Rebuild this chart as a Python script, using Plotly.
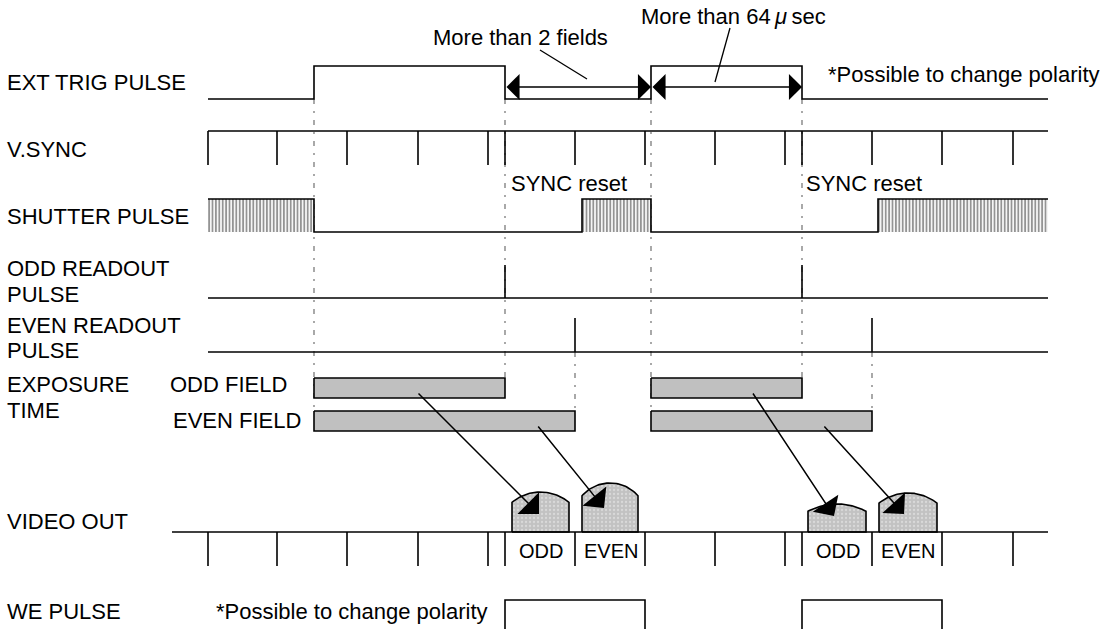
import math
import plotly.graph_objects as go

# ---------------- data (time axis in diagram units) ----------------
T_START, T_END = 208, 1048
trig_edges = [314, 505, 651, 802]                 # rise, fall, rise, fall
vsync_ticks = [208, 277, 347, 418, 488, 505, 575, 645, 715, 785, 802, 872, 942, 1013]
shutter_active = [(208, 314), (582, 651), (878, 1048)]
odd_readout = [505, 802]
even_readout = [575, 872]
odd_exposure = [(314, 505), (651, 802)]
even_exposure = [(314, 575), (651, 872)]
video_odd = [(512, 569), (808, 866)]
video_even = [(582, 638), (879, 937)]
video_odd_amp = [40, 28]
video_even_amp = [49, 39]
we_pulses = [(505, 645), (802, 942)]
video_labels = ["ODD", "EVEN", "ODD", "EVEN"]
row_labels = ["EXT TRIG PULSE", "V.SYNC", "SHUTTER PULSE", "ODD READOUT", "PULSE",
              "EVEN READOUT", "PULSE", "EXPOSURE", "TIME", "VIDEO OUT", "WE PULSE"]

# ---------------- layout constants ----------------
W, H = 1115, 629
Y = dict(trig_lo=99, trig_hi=66, vs=131, tick=34, sh_hi=199, sh_lo=232,
         odd_base=298, odd_top=265, even_base=352, even_top=318,
         oddbar=(378, 398), evenbar=(411, 431), video=532, we_top=600, we_bot=660)
row_label_y = [82, 149, 216, 268, 294, 325, 350, 384, 410, 521, 611]
FONT = "Liberation Sans, Arial, sans-serif"
FS = 22
BLACK = "#000000"
LW = 1.6

fig = go.Figure()


def line(xs, ys, color=BLACK, width=LW, dash=None):
    fig.add_trace(go.Scatter(x=xs, y=ys, mode="lines",
                             line=dict(color=color, width=width, dash=dash),
                             hoverinfo="skip", showlegend=False))


def poly(xs, ys, fillcolor=None, pattern=None, lcolor=BLACK, lwidth=LW):
    kw = {}
    if pattern is not None:
        kw["fillpattern"] = pattern
    fig.add_trace(go.Scatter(x=xs, y=ys, mode="lines", fill="toself",
                             fillcolor=fillcolor,
                             line=dict(color=lcolor, width=lwidth),
                             hoverinfo="skip", showlegend=False, **kw))


# ---------- dash-dot reference lines (drawn first, behind) ----------
ref_lines = [(trig_edges[0], Y["trig_lo"], Y["evenbar"][0]),
             (trig_edges[1], Y["trig_lo"], Y["oddbar"][0]),
             (even_readout[0], Y["even_base"], Y["evenbar"][0]),
             (trig_edges[2], Y["trig_lo"], Y["evenbar"][0]),
             (trig_edges[3], Y["trig_lo"], Y["oddbar"][0]),
             (even_readout[1], Y["even_base"], Y["evenbar"][0])]
xs, ys = [], []
for x, y0, y1 in ref_lines:
    xs += [x, x, None]
    ys += [y0, y1, None]
line(xs, ys, color="#707070", width=1.2, dash="5px,7px,2px,7px")

# ---------- EXT TRIG ----------
xs, ys = [T_START], [Y["trig_lo"]]
level = Y["trig_lo"]
for e in trig_edges:
    xs.append(e); ys.append(level)
    level = Y["trig_hi"] if level == Y["trig_lo"] else Y["trig_lo"]
    xs.append(e); ys.append(level)
xs.append(T_END); ys.append(level)
line(xs, ys)

# ---------- V.SYNC ----------
xs, ys = [T_START, T_END, None], [Y["vs"], Y["vs"], None]
for t in vsync_ticks:
    xs += [t, t, None]
    ys += [Y["vs"], Y["vs"] + Y["tick"], None]
line(xs, ys)

# ---------- SHUTTER ----------
for a, b in shutter_active:
    poly([a, b, b, a, a], [Y["sh_hi"], Y["sh_hi"], Y["sh_lo"], Y["sh_lo"], Y["sh_hi"]],
         fillcolor="white",
         pattern=dict(shape="|", size=3.4, solidity=0.55, fgcolor="#2a2a2a", bgcolor="white"),
         lcolor="rgba(0,0,0,0)", lwidth=0)
xs, ys = [], []
for i, (a, b) in enumerate(shutter_active):
    if i > 0:
        xs += [a]; ys += [Y["sh_lo"]]
    xs += [a, b]; ys += [Y["sh_hi"], Y["sh_hi"]]
    if b < T_END:
        xs += [b]; ys += [Y["sh_lo"]]
line(xs, ys)

# ---------- READOUT PULSES ----------
for pulses, base, top in [(odd_readout, Y["odd_base"], Y["odd_top"]),
                          (even_readout, Y["even_base"], Y["even_top"])]:
    xs, ys = [T_START, T_END, None], [base, base, None]
    for t in pulses:
        xs += [t, t, None]
        ys += [base, top, None]
    line(xs, ys)

# ---------- EXPOSURE BARS ----------
for bars, (y0, y1) in [(odd_exposure, Y["oddbar"]), (even_exposure, Y["evenbar"])]:
    for a, b in bars:
        poly([a, b, b, a, a], [y0, y0, y1, y1, y0], fillcolor="#c0c0c0")

# ---------- VIDEO OUT ----------
base = Y["video"]


def dome(x0, x1, amp):
    s = amp * 0.26
    c = x1 - x0
    R = (c * c / 4 + s * s) / (2 * s)
    xc = (x0 + x1) / 2
    top = base - amp
    cy = top + R
    half = math.asin((c / 2) / R)
    xs, ys = [x0, x0], [base, base - (amp - s)]
    n = 40
    for i in range(n + 1):
        th = -half + 2 * half * i / n
        xs.append(xc + R * math.sin(th))
        ys.append(cy - R * math.cos(th))
    xs += [x1, x1, x0]
    ys += [base - (amp - s), base, base]
    return xs, ys


blobs = list(zip(video_odd, video_odd_amp)) + list(zip(video_even, video_even_amp))
for (a, b), amp in blobs:
    bx, by = dome(a, b, amp)
    poly(bx, by, fillcolor="#c8c8c8",
         pattern=dict(shape=".", size=4, solidity=0.25, fgcolor="#f0f0f0", bgcolor="#c2c2c2"))

xs, ys = [172, T_END, None], [base, base, None]
for t in vsync_ticks:
    xs += [t, t, None]
    ys += [base, base + Y["tick"], None]
line(xs, ys)

# ---------- WE PULSE ----------
xs, ys = [], []
for a, b in we_pulses:
    xs += [a, a, b, b, None]
    ys += [Y["we_bot"], Y["we_top"], Y["we_top"], Y["we_bot"], None]
line(xs, ys)

# ---------- leader lines ----------
line([540, 587, None, 730, 715], [50, 79, None, 28, 82], width=1.3)

# ---------- annotations ----------
ann = []


def text(x, y, s, anchor="left", size=FS):
    ann.append(dict(x=x, y=y, xref="x", yref="y", text=s, showarrow=False,
                    xanchor=anchor, yanchor="middle",
                    font=dict(family=FONT, size=size, color=BLACK)))


for s, y in zip(row_labels, row_label_y):
    text(5, y, s)
text(168, 384, "ODD FIELD")
text(171, 420, "EVEN FIELD")
text(520, 37, "More than 2 fields", anchor="center")
text(733, 16, "More than 64\u2009<i>μ</i>\u2009sec", anchor="center")
text(826, 74, "*Possible to change polarity")
text(490, 611, "*Possible to change polarity", anchor="right")
text(509, 183, "SYNC reset")
text(804, 183, "SYNC reset")
centers = [sum(p) / 2 for p in (list(zip(vsync_ticks[5:8], vsync_ticks[6:8]))
                                 + list(zip(vsync_ticks[10:12], vsync_ticks[11:13])))]
for c, s in zip(centers, video_labels):
    text(c + 1, 551, s, anchor="center", size=20)


def arrow(x, y, ax, ay, side="end", size=2.4):
    ann.append(dict(x=x, y=y, ax=ax, ay=ay, xref="x", yref="y", axref="x", ayref="y",
                    text="", showarrow=True, arrowhead=1, arrowsize=size, arrowwidth=1.5,
                    arrowcolor=BLACK, arrowside=side, standoff=0, startstandoff=0))


arrow(trig_edges[2], 87, trig_edges[1], 87, side="end+start", size=2.9)
arrow(trig_edges[3], 87, trig_edges[2], 87, side="end+start", size=2.9)
arrow(539, 514, 417, 392, size=3.4)
arrow(604, 508, 537, 425, size=3.4)
arrow(834, 516, 752, 392, size=3.4)
arrow(904, 514, 823, 425, size=3.4)

fig.update_layout(
    width=W, height=H, margin=dict(l=0, r=0, t=0, b=0),
    paper_bgcolor="white", plot_bgcolor="white",
    xaxis=dict(range=[0, W], visible=False, fixedrange=True),
    yaxis=dict(range=[H, 0], visible=False, fixedrange=True),
    annotations=ann, showlegend=False,
)
fig.write_html("out.html", config={"displayModeBar": False},
               post_script="document.body.style.margin='0';document.body.style.overflow='hidden';")
